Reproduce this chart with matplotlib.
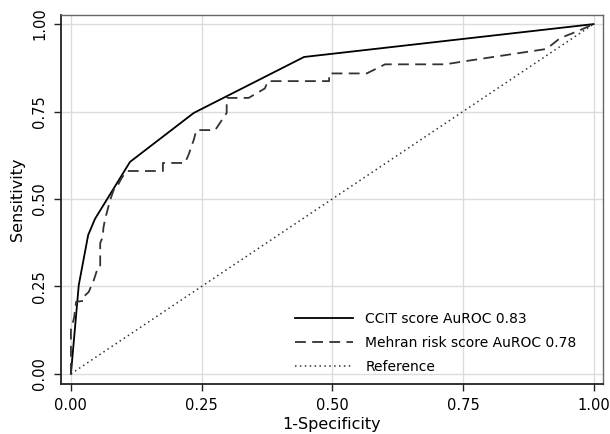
import matplotlib
matplotlib.use("Agg")
import matplotlib.pyplot as plt

# CCIT score ROC curve
ccit_fpr = [0.0, 0.015, 0.033, 0.046, 0.113, 0.235, 0.446, 1.0]
ccit_tpr = [0.0, 0.254, 0.397, 0.443, 0.606, 0.746, 0.906, 1.0]

# Mehran risk score ROC curve
mehran_fpr = [0.0, 0.0, 0.006, 0.010, 0.025, 0.026, 0.034, 0.044, 0.050, 0.056, 0.056,
              0.061, 0.062, 0.065, 0.075, 0.084, 0.090, 0.097, 0.107, 0.176, 0.176,
              0.218, 0.225, 0.235, 0.240, 0.276, 0.298, 0.298, 0.340, 0.371, 0.377,
              0.494, 0.494, 0.566, 0.601, 0.716, 0.750, 0.910, 0.936, 0.970, 1.0]
mehran_tpr = [0.0, 0.126, 0.160, 0.206, 0.209, 0.223, 0.234, 0.269, 0.297, 0.303, 0.374,
              0.392, 0.416, 0.440, 0.497, 0.535, 0.540, 0.560, 0.580, 0.580, 0.603,
              0.603, 0.626, 0.669, 0.697, 0.697, 0.746, 0.789, 0.789, 0.816, 0.837,
              0.837, 0.859, 0.859, 0.885, 0.885, 0.893, 0.929, 0.960, 0.980, 1.0]

ref_x = [0.0, 1.0]
ref_y = [0.0, 1.0]

labels = ["CCIT score AuROC 0.83", "Mehran risk score AuROC 0.78", "Reference"]
ticks = [0.0, 0.25, 0.5, 0.75, 1.0]
tick_labels = ["0.00", "0.25", "0.50", "0.75", "1.00"]

plt.rcParams['font.family'] = ['DejaVu Sans']
fig = plt.figure(figsize=(6.1, 4.34), dpi=100)
ax = fig.add_axes([0.1, 0.1152, 0.8885, 0.8502])

ax.set_xlim(-0.019, 1.018)
ax.set_ylim(-0.029, 1.026)

ax.set_xticks(ticks)
ax.set_xticklabels(tick_labels)
ax.set_yticks(ticks)
ax.set_yticklabels(tick_labels, rotation=90, va='center')
ax.grid(True, color='#dcdcdc', linewidth=1.0)
ax.set_axisbelow(True)

ax.plot(ccit_fpr, ccit_tpr, color='black', linewidth=1.3, label=labels[0])
ax.plot(mehran_fpr, mehran_tpr, color='#333333', linewidth=1.3,
        linestyle=(0, (6, 3.5)), label=labels[1])
ax.plot(ref_x, ref_y, color='#333333', linewidth=1.1,
        linestyle=(0, (1, 2.2)), label=labels[2])

for s in ['top', 'right']:
    ax.spines[s].set_color('#666666')
    ax.spines[s].set_linewidth(1.0)
for s in ['left', 'bottom']:
    ax.spines[s].set_color('#222222')
    ax.spines[s].set_linewidth(1.3)

ax.tick_params(axis='both', direction='out', length=5, width=1.0, color='#222222',
               labelsize=10.5, pad=5)

ax.set_xlabel("1-Specificity", fontsize=11.5, labelpad=3)
ax.set_ylabel("Sensitivity", fontsize=11.5, labelpad=5)

leg = ax.legend(loc='upper left', bbox_to_anchor=(0.432, 0.196), frameon=False,
                fontsize=10, handlelength=4.2, handletextpad=0.85,
                labelspacing=0.72, borderpad=0, borderaxespad=0)

fig.savefig("out.png", dpi=100)
